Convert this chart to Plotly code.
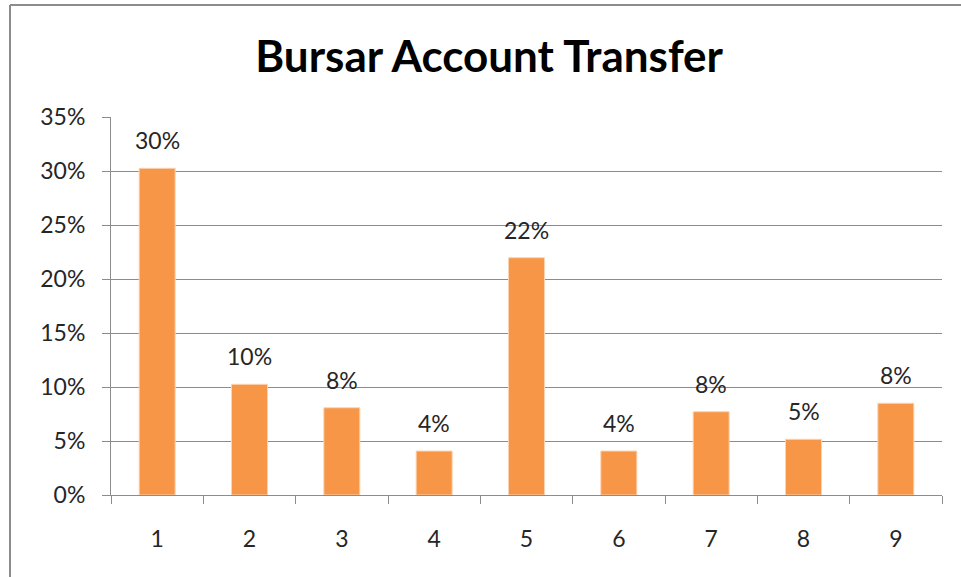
import plotly.graph_objects as go

categories = ["1", "2", "3", "4", "5", "6", "7", "8", "9"]
values = [0.3025, 0.1025, 0.0808, 0.0407, 0.2197, 0.0407, 0.0771, 0.0516, 0.0849]
y_ticks = [0, 0.05, 0.10, 0.15, 0.20, 0.25, 0.30, 0.35]
title_text = "Bursar Account Transfer"

FONT = "Lato, 'Open Sans', 'DejaVu Sans', sans-serif"
GRID = "#8c8c8c"

fig = go.Figure()
fig.add_trace(go.Bar(
    x=categories, y=values,
    marker=dict(color="#F79646", line=dict(color="#FBD3B2", width=1)),
    hoverinfo="skip",
))

for i, v in enumerate(values):
    fig.add_annotation(x=i, y=v, text=f"{round(v*100):.0f}%", showarrow=False,
                       yanchor="bottom", yshift=12,
                       font=dict(family=FONT, size=23, color="#262626"))

fig.update_layout(
    width=961, height=577,
    margin=dict(l=111, r=19, t=117, b=82),
    paper_bgcolor="white", plot_bgcolor="white",
    bargap=0.61,
    showlegend=False,
    title=dict(text=f"<b>{title_text}</b>", x=0.509, xanchor="center",
               y=1 - 57/577, yanchor="middle",
               font=dict(family=FONT, size=44, color="black")),
    xaxis=dict(
        type="category", showgrid=False,
        range=[-0.5, len(categories) - 0.5],
        showline=True, linecolor=GRID, linewidth=1,
        ticks="outside", tickson="boundaries", ticklen=8, tickcolor=GRID,
        tickfont=dict(family=FONT, size=23, color="#262626"),
        ticklabelstandoff=23,
    ),
    yaxis=dict(
        range=[0, 0.35], tickvals=y_ticks, tickformat=".0%",
        showgrid=True, gridcolor=GRID, gridwidth=1,
        showline=True, linecolor=GRID, linewidth=1,
        ticks="outside", ticklen=8, tickcolor=GRID,
        tickfont=dict(family=FONT, size=23, color="#262626"),
        ticklabelstandoff=12, zeroline=False,
    ),
    shapes=[
        dict(type="line", xref="paper", yref="paper",
             x0=(10 - 111) / 831, x1=(961 - 111) / 831,
             y0=1 + (117 - 5) / 378, y1=1 + (117 - 5) / 378,
             line=dict(color="#8c8c8c", width=2)),
        dict(type="line", xref="paper", yref="paper",
             x0=(10 - 111) / 831, x1=(10 - 111) / 831,
             y0=1 + (117 - 5) / 378, y1=-(82) / 378,
             line=dict(color="#8c8c8c", width=2)),
    ],
)

fig.write_html("out.html", config={"displayModeBar": False},
               post_script="document.body.style.margin='0';document.body.style.overflow='hidden';")
